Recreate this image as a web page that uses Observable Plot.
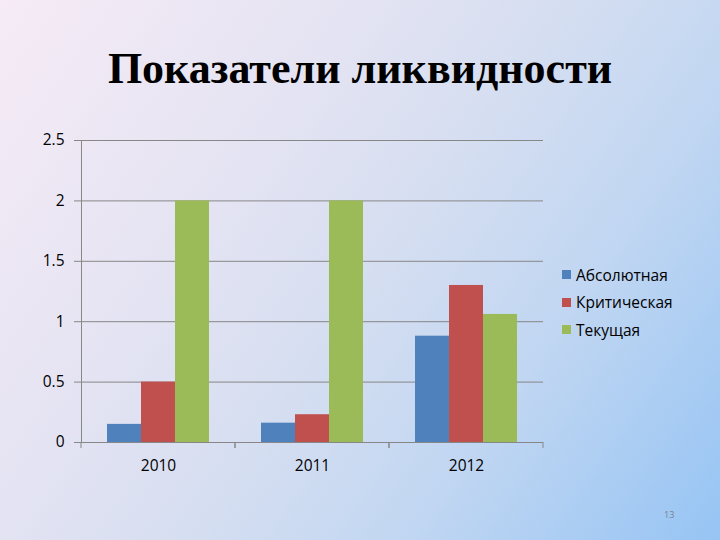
<!DOCTYPE html>
<html>
<head>
<meta charset="utf-8">
<script src="https://cdn.jsdelivr.net/npm/d3@7"></script>
<script src="https://cdn.jsdelivr.net/npm/@observablehq/plot@0.6"></script>
<style>
  html, body { margin: 0; padding: 0; }
  #slide {
    position: relative; width: 720px; height: 540px; overflow: hidden;
    background: linear-gradient(125deg, #f6ebf6 0%, #e6e4f3 30%, #d5def1 52%, #c0d6f2 72%, #96c4f4 100%);
    font-family: "Open Sans", sans-serif;
  }
  #title {
    position: absolute; left: 0; width: 720px; top: 44px; text-align: center;
    font-family: "Liberation Serif", "Times New Roman", serif; font-weight: bold;
    font-size: 44px; color: #000; margin: 0; line-height: 50px;
  }
  #chart { position: absolute; left: 0; top: 0; }
  #legend { position: absolute; left: 562px; top: 261px; font-size: 15.5px; color: #000; }
  #legend .item { display: flex; align-items: center; height: 27.5px; }
  #legend .sw { width: 9px; height: 9px; margin-right: 5px; }
  #page { position: absolute; left: 664px; top: 508px; font-size: 9px; color: #7a8290; }
</style>
</head>
<body>
<div id="slide">
  <h1 id="title">Показатели ликвидности</h1>
  <div id="chart"></div>
  <div id="legend"></div>
  <div id="page">13</div>
</div>
<script>
const years = ["2010", "2011", "2012"];
const series = ["Абсолютная", "Критическая", "Текущая"];
const absolute = [0.15, 0.16, 0.88];
const critical = [0.5, 0.23, 1.3];
const current = [2.0, 2.0, 1.06];
const colors = ["#4F81BD", "#C0504D", "#9BBB59"];
const yTicks = [0, 0.5, 1, 1.5, 2, 2.5];
const yTickLabels = ["0", "0.5", "1", "1.5", "2", "2.5"];

const valuesBySeries = [absolute, critical, current];
const table = years.flatMap((year, i) =>
  series.map((s, j) => ({year, series: s, value: valuesBySeries[j][i]}))
);

const gridColor = "#878787";

function boundaryTicks(index, scales, values, dimensions) {
  const {width, height, marginLeft, marginRight, marginBottom} = dimensions;
  const y = height - marginBottom;
  return d3.create("svg:path")
    .attr("d", `M${marginLeft},${y}v6M${width - marginRight},${y}v6`)
    .attr("stroke", gridColor)
    .attr("fill", "none")
    .node();
}

const chart = Plot.plot({
  width: 560,
  height: 480,
  marginLeft: 80,
  marginRight: 16,
  marginTop: 140,
  marginBottom: 38,
  style: {background: "transparent", fontFamily: "'Open Sans', sans-serif", fontSize: "15px", color: "#000"},
  fx: {domain: years, padding: 0, label: null},
  x: {domain: series, paddingInner: 0, paddingOuter: 0.745, axis: null},
  y: {domain: [0, 2.5], label: null},
  color: {domain: series, range: colors},
  marks: [
    Plot.gridY(yTicks, {stroke: gridColor, strokeOpacity: 1}),
    Plot.barY(table, {fx: "year", x: "series", y: "value", fill: "series"}),
    Plot.frame({anchor: "left", facetAnchor: "left", stroke: gridColor}),
    boundaryTicks,
    Plot.axisY(yTicks, {
      tickSize: 7, tickPadding: 10, stroke: gridColor, fontSize: 15.5,
      tickFormat: (d, i) => yTickLabels[i], label: null
    }),
    Plot.axisFx({anchor: "bottom", tickSize: 0, tickPadding: 17, fontSize: 15.5, label: null})
  ]
});
document.getElementById("chart").appendChild(chart);

const legend = d3.select("#legend");
series.forEach((s, i) => {
  const item = legend.append("div").attr("class", "item");
  item.append("div").attr("class", "sw").style("background", colors[i]);
  item.append("span").text(s);
});
</script>
</body>
</html>
